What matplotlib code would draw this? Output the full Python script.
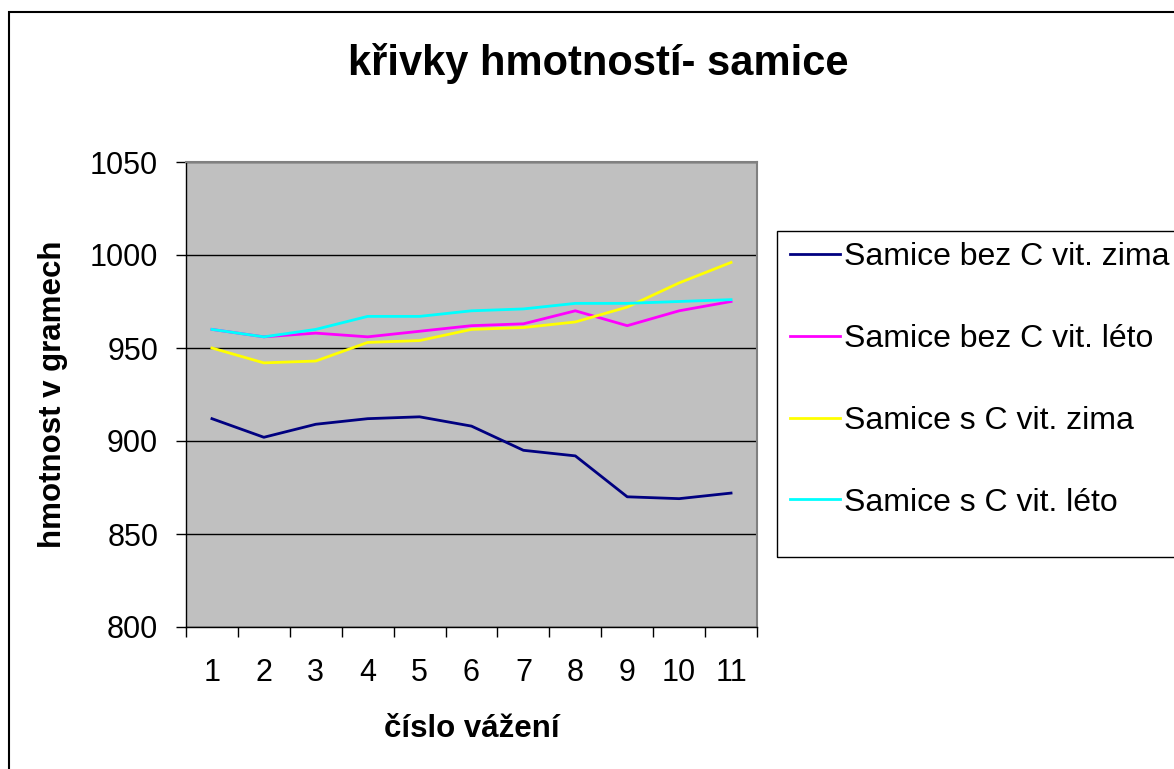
import matplotlib.pyplot as plt
import matplotlib.ticker as ticker
from matplotlib.patches import Rectangle

plt.rcParams['font.family'] = ['Liberation Sans', 'DejaVu Sans']

# data
vazeni = [1, 2, 3, 4, 5, 6, 7, 8, 9, 10, 11]
bez_c_zima = [912, 902, 909, 912, 913, 908, 895, 892, 870, 869, 872]
bez_c_leto = [960, 956, 958, 956, 959, 962, 963, 970, 962, 970, 975]
s_c_zima = [950, 942, 943, 953, 954, 960, 961, 964, 972, 985, 996]
s_c_leto = [960, 956, 960, 967, 967, 970, 971, 974, 974, 975, 976]

series = [
    ("Samice bez C vit. zima", bez_c_zima, "#000080"),
    ("Samice bez C vit. léto", bez_c_leto, "#FF00FF"),
    ("Samice s C vit. zima", s_c_zima, "#FFFF00"),
    ("Samice s C vit. léto", s_c_leto, "#00FFFF"),
]

W, H = 1174, 769
fig = plt.figure(figsize=(W / 100, H / 100), dpi=100)
ax = fig.add_axes([186 / W, 1 - 627 / H, (757 - 186) / W, (627 - 162) / H])
ax.set_facecolor("#C0C0C0")

for lbl, vals, clr in series:
    ax.plot(vazeni, vals, color=clr, linewidth=2, label=lbl)

ax.set_xlim(0.5, 11.5)
ax.set_ylim(800, 1050)
ax.yaxis.set_major_locator(ticker.MultipleLocator(50))
ax.grid(axis='y', color='black', linewidth=1)
ax.set_axisbelow(True)

ax.set_xticks(vazeni)
ax.set_xticks([v + 0.5 for v in [0] + vazeni], minor=True)
ax.tick_params(axis='x', which='major', length=0, pad=22, labelsize=22)
ax.tick_params(axis='x', which='minor', length=7, width=1, direction='out')
ax.tick_params(axis='y', which='major', length=7, width=1, direction='out', pad=13, labelsize=22)

for s in ['left', 'bottom']:
    ax.spines[s].set_color('black')
    ax.spines[s].set_linewidth(1)
for s in ['top', 'right']:
    ax.spines[s].set_color('#808080')
    ax.spines[s].set_linewidth(1.5)

ax.set_xlabel("číslo vážení", fontsize=22.5, fontweight='bold', labelpad=19)
ax.set_ylabel("hmotnost v gramech", fontsize=22.5, fontweight='bold', labelpad=16)

fig.text(598 / W, 1 - 64 / H, "křivky hmotností- samice", fontsize=30,
         fontweight='bold', ha='center', va='center')

leg = fig.legend(loc='upper left', bbox_to_anchor=(784 / W, 1 - 236 / H),
                 bbox_transform=fig.transFigure, fontsize=23, frameon=False,
                 handlelength=1.55, handletextpad=0.12, labelspacing=1.62,
                 borderpad=0.2, borderaxespad=0)
for line in leg.get_lines():
    line.set_linewidth(2)

# legend box, open on the right like the original
fig.patches.append(Rectangle((777 / W, 1 - 557 / H), 1.0, (557 - 231) / H,
                             transform=fig.transFigure, fill=False,
                             edgecolor='black', linewidth=1))

# frame around the chart
fig.patches.append(Rectangle((9 / W, -0.01), 1.1, 1 - 12 / H + 0.01,
                             transform=fig.transFigure, fill=False,
                             edgecolor='black', linewidth=1.5))

fig.savefig("out.png", dpi=100)
